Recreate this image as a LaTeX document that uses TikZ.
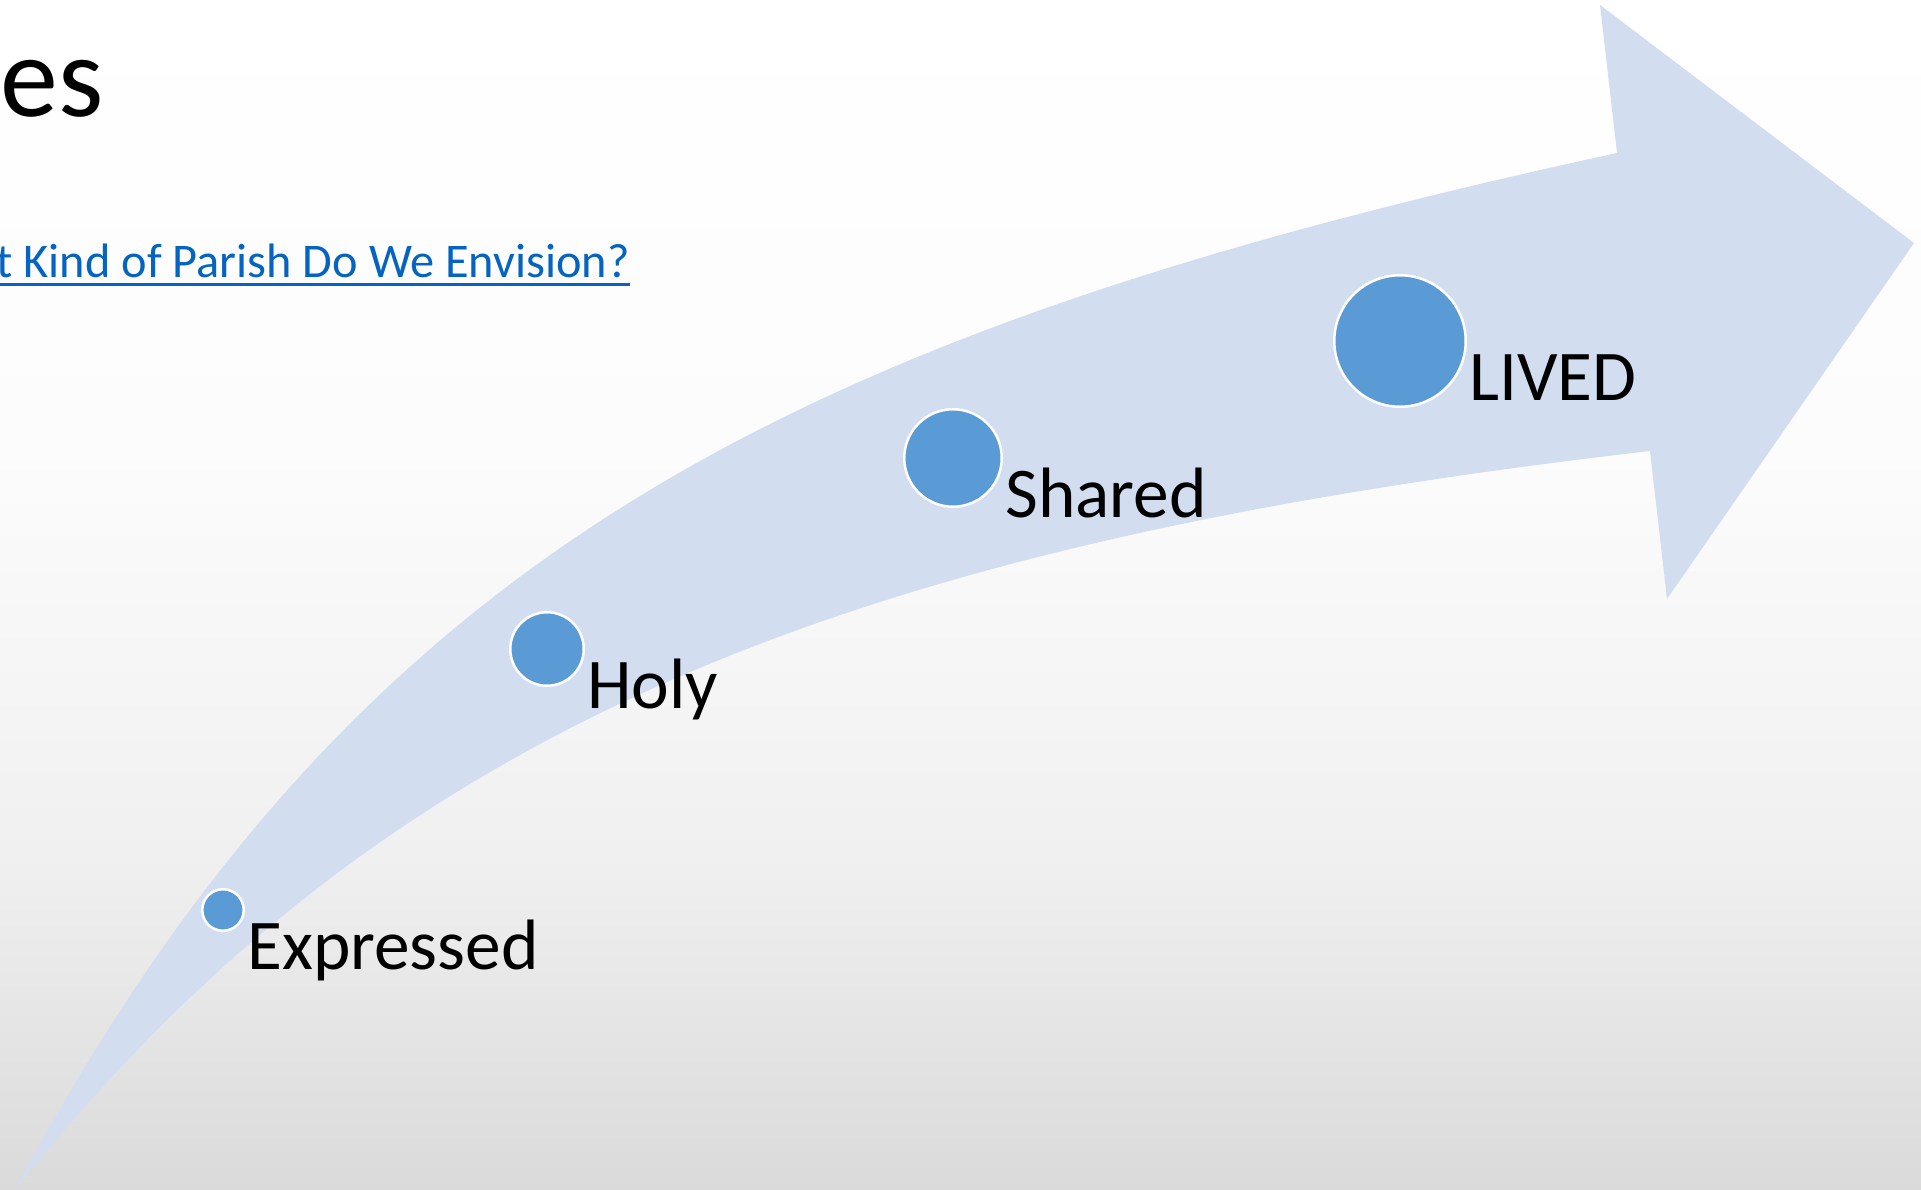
\documentclass[tikz,border=0pt]{standalone}
\usepackage{fontspec}
\setmainfont{Carlito}
\usetikzlibrary{positioning}
\definecolor{arrowfill}{RGB}{210,222,239}
\definecolor{dotblue}{RGB}{91,155,213}
\definecolor{linkblue}{RGB}{5,99,193}
\definecolor{bgbottom}{RGB}{218,218,218}
\definecolor{bglow}{RGB}{240,240,240}
\definecolor{bghigh}{RGB}{252,252,252}
\pgfdeclareverticalshading{slidebg}{100bp}{color(0bp)=(bgbottom); color(25bp)=(bgbottom); color(39bp)=(bglow); color(56bp)=(bghigh); color(75bp)=(white); color(100bp)=(white)}

\begin{document}
\begin{tikzpicture}[x=0.02cm, y=-0.02cm,
    dot/.style={circle, fill=dotblue, draw=white, line width=0.05cm, inner sep=0pt},
    lbl/.style={anchor=base west, inner sep=0pt, font=\fontsize{40.6}{48}\selectfont, xshift=0.04cm, yshift=-1.2cm}]
  \useasboundingbox (0,0) rectangle (1921,1190);
  % slide background
  \shade[shading=slidebg] (0,0) rectangle (1921,1190);

  % title and link
  \node[anchor=base east, inner sep=0pt, font=\fontsize{66}{70}\selectfont] (title) at (104,116) {es};
  \node[anchor=base east, inner sep=0pt, text=linkblue, font=\fontsize{27.5}{34}\selectfont] (link) at (630,277) {t Kind of Parish Do We Envision?};
  \draw[linkblue, line width=0.06cm] ([yshift=-0.14cm]link.base west) -- ([yshift=-0.14cm]link.base east);

  % curved arrow
  \fill[arrowfill] (15,1190) .. controls (353,556) and (787,333) .. (1617,153)
    -- (1600,5) -- (1914,243) -- (1667,599) -- (1650,451)
    .. controls (856,543) and (388,720) .. (15,1190) -- cycle;

  % steps
  \node[dot, minimum size=0.83cm] (expressed) at (223,910) {};
  \node[dot, minimum size=1.47cm] (holy) at (547,649) {};
  \node[dot, minimum size=1.95cm] (shared) at (953,458) {};
  \node[dot, minimum size=2.63cm] (lived) at (1400,341) {};

  \node[lbl] (expressedlbl) at (expressed.east) {Expressed};
  \node[lbl] (holylbl) at (holy.east) {Holy};
  \node[lbl] (sharedlbl) at (shared.east) {Shared};
  \node[lbl] (livedlbl) at (lived.east) {LIVED};
\end{tikzpicture}
\end{document}
